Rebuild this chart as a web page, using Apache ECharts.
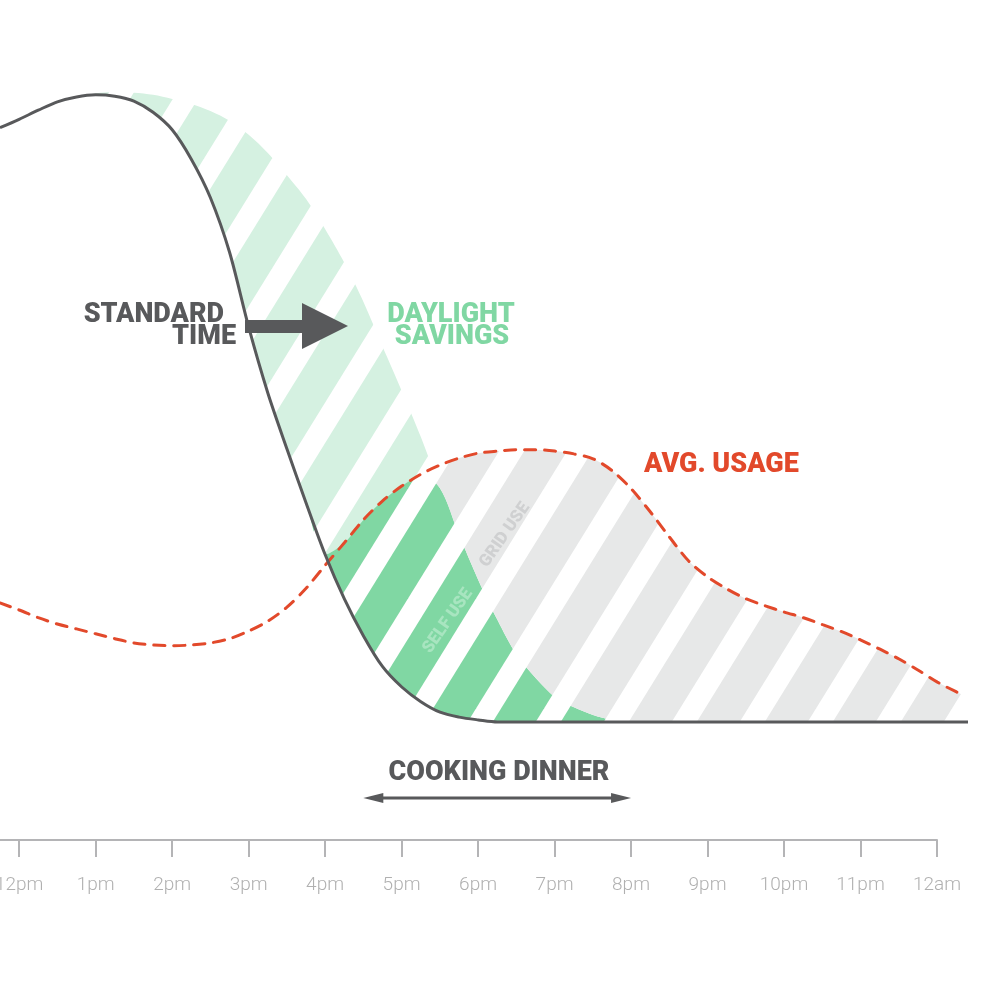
<!DOCTYPE html>
<html>
<head>
<meta charset="utf-8">
<script src="https://cdn.jsdelivr.net/npm/echarts@6/dist/echarts.min.js"></script>
<style>
  html, body { margin: 0; padding: 0; background: #fff; }
  #chart { width: 1000px; height: 1000px; }
</style>
</head>
<body>
<div id="chart"></div>
<script>
// hours after noon (0 = 12pm, 12 = 12am)
var hours = [-0.25, 0, 0.25, 0.5, 0.75, 1, 1.25, 1.5, 1.75, 2, 2.25, 2.5, 2.75, 3, 3.25, 3.5, 3.75,
  4, 4.25, 4.5, 4.75, 5, 5.25, 5.5, 5.75, 6, 6.25, 6.5, 6.75, 7, 7.25, 7.5, 7.75, 8, 8.25, 8.5, 8.75,
  9, 9.25, 9.5, 9.75, 10, 10.25, 10.5, 10.75, 11, 11.25, 11.5, 11.75, 12, 12.25, 12.33, 12.4];

// solar output, standard time
var standardTime = [84.9, 86.1, 87.4, 88.6, 89.3, 89.6, 89.4, 88.7, 87.1, 84.6, 80.4, 74.9, 67.1, 56.4, 47.0, 39.0, 31.3,
  23.9, 17.6, 12.3, 7.9, 5.0, 2.9, 1.4, 0.7, 0.3, 0, 0, 0, 0, 0, 0, 0, 0, 0, 0, 0,
  0, 0, 0, 0, 0, 0, 0, 0, 0, 0, 0, 0, 0, 0, 0, 0];

// solar output, daylight savings
var daylightSavings = [84.9, 86.1, 87.4, 88.6, 89.3, 89.8, 90.0, 89.9, 89.6, 89.0, 88.3, 87.3, 85.9, 83.9, 81.3, 78.1, 74.7,
  70.4, 65.6, 60.0, 53.6, 47.3, 40.7, 33.4, 26.7, 20.3, 14.6, 9.6, 6.3, 3.6, 2.1, 1.0, 0.3, 0, 0, 0, 0,
  0, 0, 0, 0, 0, 0, 0, 0, 0, 0, 0, 0, 0, 0, 0, 0];

// average household usage
var avgUsage = [17.0, 16.0, 14.9, 14.0, 13.3, 12.6, 11.9, 11.3, 11.0, 10.9, 11.0, 11.3, 11.9, 13.0, 14.4, 16.4, 19.1,
  22.4, 25.6, 28.9, 31.6, 33.7, 35.4, 36.7, 37.7, 38.4, 38.7, 38.9, 38.9, 38.7, 38.3, 37.6, 35.9, 33.3, 30.0, 26.4, 23.0,
  20.7, 19.0, 17.6, 16.6, 15.7, 14.9, 13.9, 12.9, 11.7, 10.4, 9.0, 7.4, 5.7, 4.3, 3.9, null];

var tickHours = [0, 1, 2, 3, 4, 5, 6, 7, 8, 9, 10, 11, 12];
var tickLabels = ['12pm', '1pm', '2pm', '3pm', '4pm', '5pm', '6pm', '7pm', '8pm', '9pm', '10pm', '11pm', '12am'];
var cookingDinner = [4.5, 8];

var SMOOTH = 0.3;
var DARK = '#58595b';
var RED = '#e2492b';
var GREEN = '#80d7a3';

function stripes(color) {
  var c = document.createElement('canvas');
  c.width = 68; c.height = 110;
  var g = c.getContext('2d');
  g.fillStyle = color;
  g.fillRect(0, 0, 68, 110);
  g.fillStyle = '#fff';
  for (var n = -2; n <= 2; n++) {
    var s = 30 + 68 * n;
    g.beginPath();
    g.moveTo(s, 0); g.lineTo(s + 25, 0); g.lineTo(s + 25 - 68, 110); g.lineTo(s - 68, 110);
    g.closePath(); g.fill();
  }
  return { image: c, repeat: 'repeat' };
}

// value first, hour second, so stacking runs on the value
function pairs(vals) {
  return hours.map(function (h, i) { return [vals[i], h]; });
}

// bands between the curves
var lgBase = [], lgBand = [], gsBase = [], gsBand = [], grBase = [], grBand = [];
for (var i = 0; i < hours.length; i++) {
  var st = standardTime[i], dl = daylightSavings[i], us = avgUsage[i];
  var upper = us == null ? st : Math.max(st, us);
  var lower = Math.min(upper, dl);
  lgBase.push(lower); lgBand.push(dl - lower);
  gsBase.push(st); gsBand.push(us == null ? 0 : Math.max(0, Math.min(us, dl) - st));
  grBase.push(us == null ? null : Math.min(dl, us)); grBand.push(us == null ? null : Math.max(0, us - dl));
}

function line(vals, extra) {
  var o = { type: 'line', data: pairs(vals), encode: { x: 1, y: 0 }, smooth: SMOOTH, symbol: 'none', silent: true };
  for (var k in extra) o[k] = extra[k];
  return o;
}
function base(stack, vals) {
  return line(vals, { stack: stack, lineStyle: { opacity: 0 } });
}
function band(stack, vals, fill) {
  return line(vals, { stack: stack, lineStyle: { opacity: 0 }, areaStyle: { color: fill, opacity: 1 } });
}

var chart = echarts.init(document.getElementById('chart'));
chart.setOption({
  animation: false,
  grid: [
    { left: 0, right: 32, top: 22, bottom: 278, outerBoundsMode: 'none', containLabel: false },
    { left: 0, right: 63, top: 780, bottom: 160, outerBoundsMode: 'none', containLabel: false }
  ],
  xAxis: [
    { type: 'value', gridIndex: 0, min: -0.25, max: 12.4, show: false },
    { type: 'value', gridIndex: 1, min: -0.25, max: 12,
      axisLine: { show: true, lineStyle: { color: '#b4b4b6', width: 2 } },
      axisTick: { show: true, customValues: tickHours, length: 17, lineStyle: { color: '#b4b4b6', width: 2 } },
      axisLabel: { customValues: tickHours, margin: 36, color: '#b0b0b0', fontSize: 19, fontFamily: 'Roboto', fontWeight: 300,
        formatter: function (v) { return tickLabels[tickHours.indexOf(v)]; } },
      splitLine: { show: false } }
  ],
  yAxis: [
    { type: 'value', gridIndex: 0, min: 0, max: 100, show: false },
    { type: 'value', gridIndex: 1, min: 0, max: 1, show: false }
  ],
  series: [
    base('lg', lgBase), band('lg', lgBand, stripes('#d5f1e1')),
    base('gs', gsBase), band('gs', gsBand, stripes(GREEN)),
    base('gr', grBase), band('gr', grBand, stripes('#e7e8e8')),
    line(avgUsage, { clip: false, lineStyle: { color: RED, width: 3, type: [11, 9], cap: 'round' } }),
    line(standardTime, { clip: false, lineStyle: { color: DARK, width: 3 } })
  ]
});

var dx0 = chart.convertToPixel({ xAxisIndex: 1 }, cookingDinner[0]);
var dx1 = chart.convertToPixel({ xAxisIndex: 1 }, cookingDinner[1]);
var ay = 798;
var bold = '900 27px Roboto';

chart.setOption({
  graphic: [
    { type: 'text', x: 224, y: 315, z: 10, style: { text: 'STANDARD', font: bold, fill: DARK, align: 'right', verticalAlign: 'middle' } },
    { type: 'text', x: 236, y: 337, z: 10, style: { text: 'TIME', font: bold, fill: DARK, align: 'right', verticalAlign: 'middle' } },
    { type: 'text', x: 451, y: 315, z: 10, style: { text: 'DAYLIGHT', font: bold, fill: GREEN, align: 'center', verticalAlign: 'middle' } },
    { type: 'text', x: 452, y: 337, z: 10, style: { text: 'SAVINGS', font: bold, fill: GREEN, align: 'center', verticalAlign: 'middle' } },
    { type: 'text', x: 644, y: 465, z: 10, style: { text: 'AVG. USAGE', font: bold, fill: RED, align: 'left', verticalAlign: 'middle' } },
    { type: 'text', x: 499, y: 773, z: 10, style: { text: 'COOKING DINNER', font: bold, fill: DARK, align: 'center', verticalAlign: 'middle' } },
    { type: 'text', x: 505, y: 535, z: 10, rotation: 55 * Math.PI / 180,
      style: { text: 'GRID USE', font: '900 17px Roboto', fill: '#cfd0d1', align: 'center', verticalAlign: 'middle' } },
    { type: 'text', x: 448, y: 621, z: 10, rotation: 55 * Math.PI / 180,
      style: { text: 'SELF USE', font: '900 17px Roboto', fill: '#a8e5c0', align: 'center', verticalAlign: 'middle' } },
    // big arrow
    { type: 'polygon', z: 10, shape: { points: [[245, 320], [302, 320], [302, 303], [348, 326], [302, 349], [302, 333], [245, 333]] },
      style: { fill: DARK } },
    // cooking dinner arrow
    { type: 'line', z: 10, shape: { x1: dx0 + 10, y1: ay, x2: dx1 - 10, y2: ay }, style: { stroke: DARK, lineWidth: 3 } },
    { type: 'polygon', z: 10, shape: { points: [[dx0, ay], [dx0 + 20, ay - 5], [dx0 + 20, ay + 5]] }, style: { fill: DARK } },
    { type: 'polygon', z: 10, shape: { points: [[dx1, ay], [dx1 - 20, ay - 5], [dx1 - 20, ay + 5]] }, style: { fill: DARK } }
  ]
});
</script>
</body>
</html>
